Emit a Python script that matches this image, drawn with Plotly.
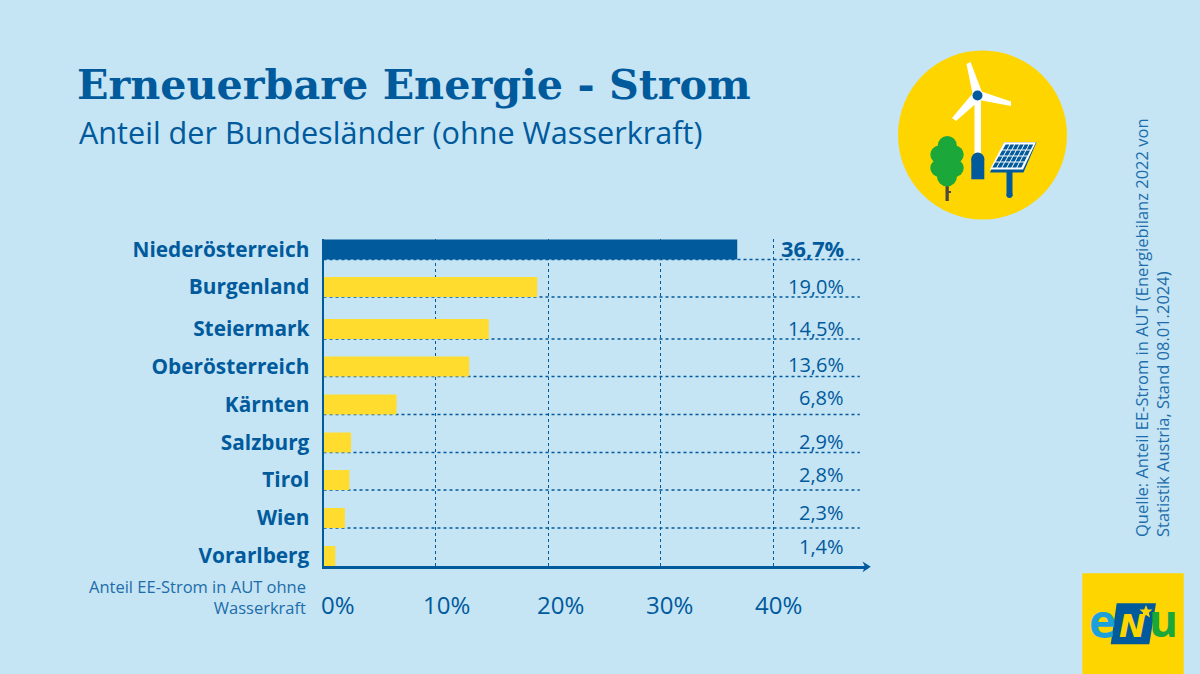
import plotly.graph_objects as go

bundeslaender = ["Niederösterreich", "Burgenland", "Steiermark", "Oberösterreich", "Kärnten",
                 "Salzburg", "Tirol", "Wien", "Vorarlberg"]
# the printed figures and the drawn bar lengths differ in the original graphic
anteil_text = ["36,7%", "19,0%", "14,5%", "13,6%", "6,8%", "2,9%", "2,8%", "2,3%", "1,4%"]
balken = [36.8, 19.0, 14.7, 12.95, 6.5, 2.45, 2.3, 1.9, 1.05]
x_ticks = [0, 10, 20, 30, 40]
x_labels = ["0%", "10%", "20%", "30%", "40%"]

BG = "#C5E4F4"
BLUE = "#005A9C"
YELLOW = "#FFD500"
BAR_YELLOW = "#FFDC2E"
GREEN = "#1BA73A"
W, H = 1200, 674
ROW = 38.3  # px per category

# hand placement of the original artwork, px
row_nudge = [0, -0.8, 2.9, 2.1, 1.8, 1.5, 0.7, 0.4, 0.1]
value_nudge = [-0.5, -1, 2, 0, -5, 0, -5, -5.6, -9]
tick_nudge = [14.5, 11, 12, 9, 5]


def px(x, y):
    return x / W, 1 - y / H


def path(points, close=True):
    parts = []
    for i, (x, y) in enumerate(points):
        a, b = px(x, y)
        parts.append(("M" if i == 0 else "L") + f"{a:.5f},{b:.5f}")
    return " ".join(parts) + (" Z" if close else "")


def poly(points, color):
    return dict(type="path", xref="paper", yref="paper", path=path(points),
                fillcolor=color, line=dict(width=0), layer="above")


def circle(cx, cy, r, color):
    x0, y0 = px(cx - r, cy + r)
    x1, y1 = px(cx + r, cy - r)
    return dict(type="circle", xref="paper", yref="paper", x0=x0, y0=y0, x1=x1, y1=y1,
                fillcolor=color, line=dict(width=0), layer="above")


def rect(x0, y0, x1, y1, color):
    return poly([(x0, y0), (x1, y0), (x1, y1), (x0, y1)], color)


shapes = []
# icon
shapes.append(circle(982.5, 135, 84.5, YELLOW))
shapes.append(rect(974.5, 96, 981, 156, "white"))
hub = (977.5, 95.5)
shapes.append(poly([(966.5, 64), (970.5, 62), (982, 92), (973, 96)], "white"))
shapes.append(poly([(980, 91), (1011, 101.5), (1011, 106), (979, 100)], "white"))
shapes.append(poly([(973, 93), (980, 100), (956, 121), (952, 118)], "white"))
shapes.append(circle(hub[0], hub[1], 5, BLUE))
shapes.append(circle(977.8, 159, 6.5, BLUE))
shapes.append(rect(971.3, 159, 984.3, 179.3, BLUE))
# tree
shapes.append(rect(945.5, 185, 948.8, 201, "#4D4A3C"))
shapes.append(rect(948, 191, 951, 193, "#4D4A3C"))
for cx, cy, r in [(947.3, 145.5, 9.5), (939.3, 154.5, 9), (954.7, 154.5, 9),
                  (939.3, 168, 9), (954.7, 168, 9), (947, 176.5, 10), (947, 160, 12)]:
    shapes.append(circle(cx, cy, r, GREEN))
# solar panel
shapes.append(rect(1006.5, 170, 1012.5, 196, BLUE))
shapes.append(circle(1009.5, 195, 3, BLUE))
shapes.append(poly([(1004, 142.3), (1036.5, 142.3), (1023.5, 172.5), (990, 172.5)], BLUE))
shapes.append(poly([(1004, 142.3), (1036, 142.3), (1023, 169.5), (990, 169.5)], "white"))
cols, rows = 6, 4
for r_i in range(rows):
    for c_i in range(cols):
        def corner(u, v):
            lx = 1005.5 + (991.5 - 1005.5) * v
            rx = 1034 + (1021.5 - 1034) * v
            return lx + (rx - lx) * u, 144 + (168 - 144) * v
        u0, u1 = (c_i + 0.1) / cols, (c_i + 0.9) / cols
        v0, v1 = (r_i + 0.1) / rows, (r_i + 0.9) / rows
        shapes.append(poly([corner(u0, v0), corner(u1, v0), corner(u1, v1), corner(u0, v1)], BLUE))
# logo
shapes.append(rect(1082.3, 573.3, 1183.7, 674, YELLOW))
shapes.append(poly([(1116.7, 603.3), (1156, 603.3), (1149.3, 644.3), (1110.7, 644.3)], BLUE))
shapes.append(poly([(1146, 605), (1147.8, 609.5), (1152.5, 609.5), (1148.8, 612.8), (1150, 617.5),
                    (1146, 615), (1142, 617.5), (1143.2, 612.8), (1139.5, 609.5), (1144.2, 609.5)], YELLOW))
# axis arrow head
shapes.append(poly([(862.5, 561.5), (870.8, 566.8), (862.5, 572.3), (865, 566.8)], BLUE))

# dotted row rules
for i in range(len(bundeslaender) - 1):
    yy = i + (10 + row_nudge[i]) / ROW
    shapes.append(dict(type="line", xref="x", yref="y", x0=0, x1=47.7, y0=yy, y1=yy,
                       line=dict(color=BLUE, width=1.3, dash="dot"), layer="below"))

bar_colors = [BLUE] + [BAR_YELLOW] * (len(balken) - 1)
bar_w = 0.52

fig = go.Figure()
fig.add_trace(go.Bar(
    y=bundeslaender, x=balken, orientation="h", marker=dict(color=bar_colors, line=dict(width=0)),
    width=bar_w, offset=[-bar_w / 2 + n / ROW for n in row_nudge], hoverinfo="skip"))

LABEL_FONT = "Open Sans"
ann = []
for i, (name, txt) in enumerate(zip(bundeslaender, anteil_text)):
    size = 20
    if i == 0:
        txt = f"<b>{txt}</b>"
        size = 21.8
    ann.append(dict(x=46.45, y=name, xref="x", yref="y", text=txt, showarrow=False, xanchor="right",
                    yshift=-value_nudge[i], font=dict(family=LABEL_FONT, size=size, color=BLUE)))
for t, lab, n in zip(x_ticks, x_labels, tick_nudge):
    ann.append(dict(x=t, y=px(0, 604)[1], xref="x", yref="paper", yanchor="middle", xshift=n,
                    text=lab, showarrow=False, font=dict(family=LABEL_FONT, size=24, color=BLUE)))


def page_text(x, y, text, family=LABEL_FONT, size=19, color=BLUE, xanchor="left", angle=0, align="left"):
    a, b = px(x, y)
    ann.append(dict(x=a, y=b, xref="paper", yref="paper", text=text, showarrow=False, xanchor=xanchor,
                    yanchor="middle", textangle=angle, align=align,
                    font=dict(family=family, size=size, color=color)))


page_text(77, 132, "Anteil der Bundesländer (ohne Wasserkraft)", size=30.6)
page_text(308, 597, "Anteil EE-Strom in AUT ohne<br>Wasserkraft", size=16.5, xanchor="right", color="#1C6DAB", align="right")
page_text(1152, 328, "Quelle: Anteil EE-Strom in AUT (Energiebilanz 2022 von<br>Statistik Austria, Stand 08.01.2024)",
          size=16.5, xanchor="center", angle=-90, color="#1C6DAB")
page_text(1102, 619.5, "<b>e</b>", size=46, xanchor="center", color="#1BA0DC")
page_text(1132.5, 626, "<b><i>N</i></b>", family="DejaVu Sans", size=32, xanchor="center", color=YELLOW)
page_text(1163.5, 619.5, "<b>u</b>", size=44, xanchor="center", color=GREEN)

fig.update_layout(
    width=W, height=H, autosize=False, margin=dict(l=0, r=0, t=0, b=0, pad=0, autoexpand=False),
    paper_bgcolor=BG, plot_bgcolor=BG, showlegend=False,
    title=dict(text="<b>Erneuerbare Energie - Strom</b>", x=77 / W, xanchor="left", y=1 - 85 / H, yanchor="middle",
               font=dict(family="DejaVu Serif", size=41.3, color=BLUE)),
    xaxis=dict(domain=[323.5 / W, 868 / W], range=[0, 48.43], tickvals=x_ticks, showticklabels=False,
               showgrid=True, gridcolor=BLUE, griddash="dot", gridwidth=1.3, zeroline=False,
               showline=True, linecolor=BLUE, linewidth=3),
    yaxis=dict(domain=[1 - 566 / H, 1 - 239 / H], range=[8 + 10.1 / ROW, -10.5 / ROW], type="category",
               categoryorder="array", categoryarray=bundeslaender,
               tickmode="array", tickvals=[i + n / ROW for i, n in enumerate(row_nudge)],
               ticktext=[f"<b>{b}</b>" for b in bundeslaender],
               ticks="", ticklabelstandoff=8, showgrid=False, zeroline=False,
               showline=True, linecolor=BLUE, linewidth=2,
               tickfont=dict(family=LABEL_FONT, size=20.8, color=BLUE)),
    shapes=shapes, annotations=ann,
)

fig.write_html("out.html", config=dict(displayModeBar=False), post_script="document.body.style.margin='0';")
